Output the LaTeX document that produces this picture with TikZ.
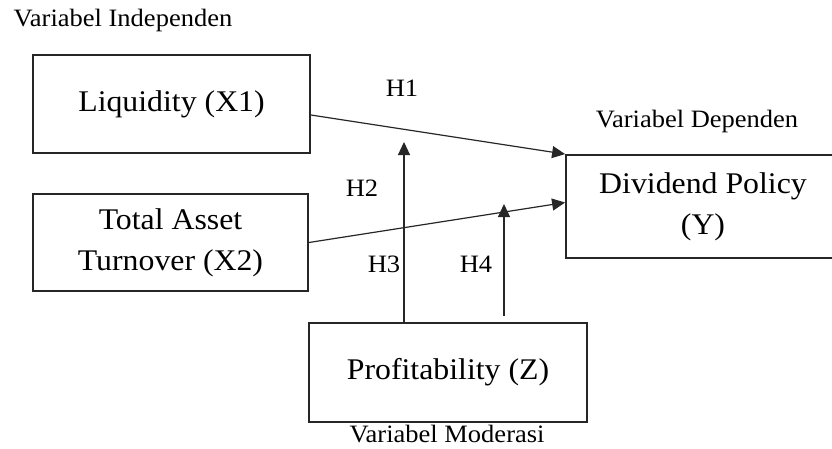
\documentclass[tikz,border=0pt]{standalone}
\usepackage{fontspec}
\setmainfont{Liberation Serif}[FakeStretch=1.06]
\usetikzlibrary{arrows.meta}
\begin{document}
\begin{tikzpicture}[x=1pt,y=-1pt,
  box/.style={draw=black!85,line width=1.8pt,rectangle,inner sep=0pt,align=center,font=\fontsize{30}{41}\selectfont},
  lbl/.style={inner sep=0pt,font=\fontsize{25}{27}\selectfont},
  arr/.style={draw=black!85,line width=1.2pt,-{Triangle[length=13pt,width=12pt]}}]
\useasboundingbox (0,0) rectangle (832,448);
\clip (0,0) rectangle (832,448);
\node[box,minimum width=277pt,minimum height=98pt] (liq) at (171.5,104) {Liquidity (X1)};
\node[box,minimum width=275pt,minimum height=97pt] (tat) at (170.5,242.5) {Total Asset\\Turnover (X2)};
\node[box,minimum width=274pt,minimum height=103pt] (div) at (703,206.5) {Dividend Policy\\(Y)};
\node[box,minimum width=278pt,minimum height=99pt] (prof) at (448,372.5) {Profitability (Z)};
\coordinate (h3top) at (404,142);
\coordinate (h4top) at (504,204);
\draw[arr] ([yshift=-11pt]liq.east) -- (div.north west);
\draw[arr] (tat.east) -- ([yshift=4pt]div.west);
\draw[arr] ([xshift=-44pt]prof.north) -- (h3top);
\draw[arr] ([xshift=56pt,yshift=6pt]prof.north) -- (h4top);
\node[lbl] (h1) at (402,88) {H1};
\node[lbl] (h2) at (362,188) {H2};
\node[lbl] (h3) at (384,264) {H3};
\node[lbl] (h4) at (476,264) {H4};
\node[lbl] (vi) at (123,20) {Variabel Independen};
\node[lbl] (vd) at (697,121) {Variabel Dependen};
\node[lbl] (vm) at (447,434) {Variabel Moderasi};
\end{tikzpicture}
\end{document}
